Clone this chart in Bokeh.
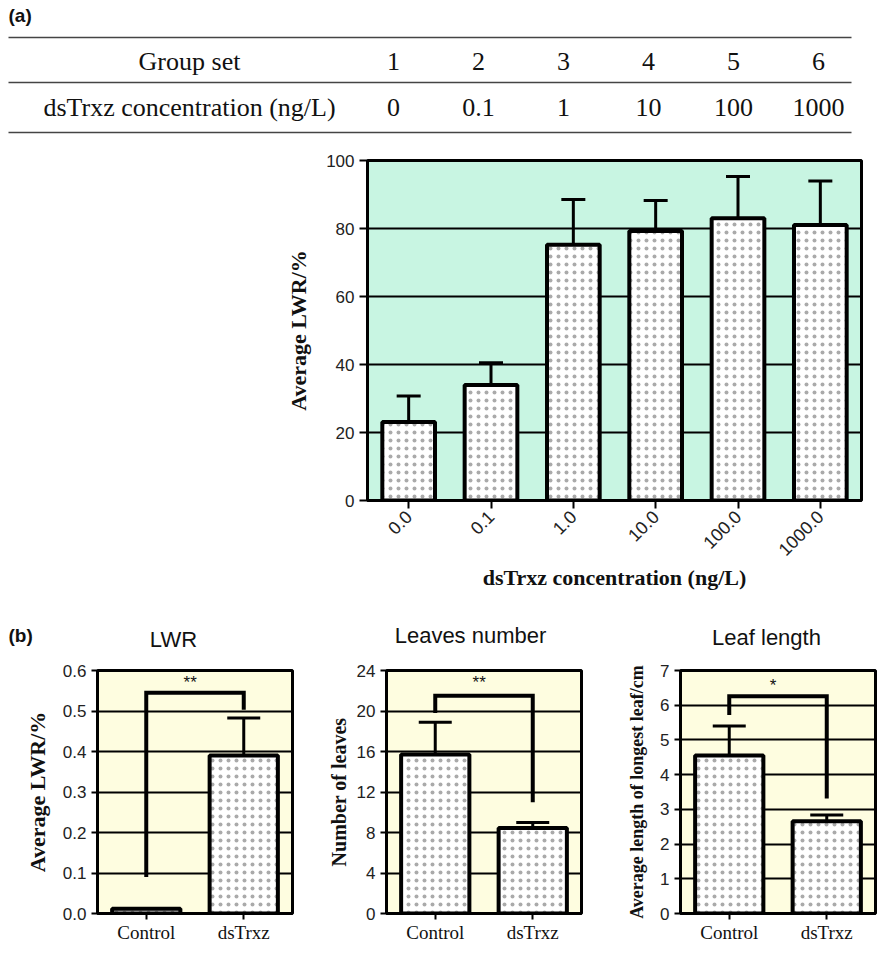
import math
from bokeh.plotting import figure
from bokeh.models import (ColumnDataSource, FactorRange, Range1d, Whisker, TeeHead,
                          Label, FixedTicker, NumeralTickFormatter, Spacer)
from bokeh.layouts import column, row
from bokeh.embed import file_html
from bokeh.resources import INLINE
from bokeh.core.properties import value

# ---------------- data ----------------
table_row_labels = ["Group set", "dsTrxz concentration (ng/L)"]
group_ids = ["1", "2", "3", "4", "5", "6"]
table_conc = ["0", "0.1", "1", "10", "100", "1000"]

conc_labels = ["0.0", "0.1", "1.0", "10.0", "100.0", "1000.0"]
lwr_mean = [23.1, 34.0, 75.2, 79.3, 83.0, 81.0]
lwr_upper = [30.7, 40.5, 88.5, 88.2, 95.3, 94.0]
a_yticks = [0, 20, 40, 60, 80, 100]

groups = ["Control", "dsTrxz"]
b_lwr_mean = [0.012, 0.39]
b_lwr_upper = [0.012, 0.483]
b_leaves_mean = [15.7, 8.45]
b_leaves_upper = [18.9, 9.0]
b_length_mean = [4.55, 2.66]
b_length_upper = [5.40, 2.84]
# significance brackets: [left leg end, bracket top, right leg end]
b_lwr_bracket = [0.09, 0.545, 0.503]
b_leaves_bracket = [19.8, 21.5, 11.0]
b_length_bracket = [5.72, 6.26, 3.31]
b_stars = ["**", "**", "*"]
b_star_y = [0.57, 22.8, 6.58]
b_titles = ["LWR", "Leaves number", "Leaf length"]
b_ylabels = ["Average LWR/%", "Number of leaves", "Average length of longest leaf/cm"]

# ---------------- style ----------------
W = 877
SANS = "Liberation Sans"
SERIF = "Liberation Serif"
MINT = "#C8F5E2"
CREAM = "#FEFDE0"
HATCH = dict(hatch_pattern="dot", hatch_scale=8, hatch_color="#555555", hatch_weight=0.2,
             hatch_alpha=0.5)


def blank(width, height):
    p = figure(width=width, height=height, x_range=Range1d(0, width), y_range=Range1d(height, 0),
               toolbar_location=None, output_backend="svg", min_border=0,
               x_axis_type=None, y_axis_type=None)
    p.outline_line_color = None
    p.grid.visible = False
    return p


# ---------------- table (a) ----------------
TH = 148
t = blank(W, TH)
line_y = [37, 82, 132]
t.segment(x0=[8] * 3, y0=line_y, x1=[851] * 3, y1=line_y, line_color="#444444", line_width=1.5)
col_x = [393 + 85 * i for i in range(len(group_ids))]
row_y = [61, 107]
TFS = "26px"
t.text(x=[189, 189], y=row_y, text=table_row_labels, text_align="center", text_baseline="middle",
       text_font=value(SERIF), text_font_size=TFS, text_color="#111111")
t.text(x=col_x, y=[row_y[0]] * len(group_ids), text=group_ids, text_align="center",
       text_baseline="middle", text_font=value(SERIF), text_font_size=TFS, text_color="#111111")
t.text(x=col_x, y=[row_y[1]] * len(table_conc), text=table_conc, text_align="center",
       text_baseline="middle", text_font=value(SERIF), text_font_size=TFS, text_color="#111111")
t.text(x=[8], y=[4], text=["(a)"], text_align="left", text_baseline="top",
       text_font=value(SANS), text_font_style="bold", text_font_size="19px", text_color="#111111")


def style_axes(p, tick_out, label_px):
    for ax in p.axis:
        ax.axis_line_width = 3
        ax.axis_line_color = "black"
        ax.major_tick_line_width = 2
        ax.major_tick_line_color = "black"
        ax.major_tick_out = tick_out
        ax.major_tick_in = 0
        ax.minor_tick_line_color = None
        ax.major_label_text_font = SANS
        ax.major_label_text_font_size = label_px
        ax.major_label_text_color = "#222222"
        ax.axis_label_text_font = SERIF
        ax.axis_label_text_font_style = "bold"
        ax.axis_label_text_color = "#111111"


# ---------------- chart (a) ----------------
SA = 250
AH = 447
pa = figure(width=W - SA, height=AH, x_range=FactorRange(*conc_labels), y_range=Range1d(0, 100),
            toolbar_location=None, output_backend="svg",
            min_border_left=367 - SA, min_border_right=16, min_border_top=12,
            min_border_bottom=AH - 12 - 340, background_fill_color=MINT)
pa.outline_line_color = "black"
pa.outline_line_width = 3
pa.xgrid.visible = False
pa.yaxis.ticker = FixedTicker(ticks=a_yticks)
pa.ygrid.ticker = FixedTicker(ticks=a_yticks)
pa.ygrid.grid_line_color = "black"
pa.ygrid.grid_line_width = 2
src_a = ColumnDataSource(dict(x=conc_labels, top=lwr_mean, upper=lwr_upper))
pa.vbar(x="x", top="top", width=0.64, source=src_a, fill_color="white",
        line_color="black", line_width=4, **HATCH)
pa.add_layout(Whisker(source=src_a, base="x", lower="top", upper="upper", line_width=3,
                      line_color="black", lower_head=None,
                      upper_head=TeeHead(size=24, line_width=3, line_color="black")))
style_axes(pa, 8, "17px")
pa.xaxis.major_label_orientation = math.pi / 4
pa.xaxis.major_label_text_font_size = "18px"
pa.xaxis.axis_label = "dsTrxz concentration (ng/L)"
pa.xaxis.axis_label_text_font_size = "22px"
pa.xaxis.axis_label_standoff = 0
pa.yaxis.axis_label = "Average LWR/%"
pa.yaxis.axis_label_text_font_size = "22px"
pa.yaxis.axis_label_standoff = 12

# ---------------- header (b) ----------------
HH = 65
hb = blank(W, HH)
hb.text(x=[8], y=[40], text=["(b)"], text_align="left", text_baseline="middle",
        text_font=value(SANS), text_font_style="bold", text_font_size="19px", text_color="#111111")
hb.text(x=[173, 470, 766], y=[44, 40, 42], text=b_titles, text_align="center",
        text_baseline="middle", text_font=value(SANS), text_font_size="22px", text_color="#111111")

# ---------------- panels (b) ----------------
BH = 285
BTOP = 10
BBOT = 28
BFRAME_W = 195


def panel(width, left, means, uppers, bracket, star, star_y, ymax, ticks, ylabel,
          ylabel_px, ylabel_standoff, fmt=None):
    p = figure(width=width, height=BH, x_range=FactorRange(*groups), y_range=Range1d(0, ymax),
               toolbar_location=None, output_backend="svg",
               min_border_left=left, min_border_right=width - left - BFRAME_W,
               min_border_top=BTOP, min_border_bottom=BBOT, background_fill_color=CREAM)
    p.outline_line_color = "black"
    p.outline_line_width = 3
    p.xgrid.visible = False
    p.yaxis.ticker = FixedTicker(ticks=ticks)
    p.ygrid.ticker = FixedTicker(ticks=ticks)
    p.ygrid.grid_line_color = "black"
    p.ygrid.grid_line_width = 2
    if fmt:
        p.yaxis.formatter = NumeralTickFormatter(format=fmt)
    src = ColumnDataSource(dict(x=groups, top=means))
    p.vbar(x="x", top="top", width=0.7, source=src, fill_color="white",
           line_color="black", line_width=4, **HATCH)
    idx = [i for i in range(len(groups)) if uppers[i] > means[i]]
    wsrc = ColumnDataSource(dict(x=[groups[i] for i in idx], lower=[means[i] for i in idx],
                                 upper=[uppers[i] for i in idx]))
    p.add_layout(Whisker(source=wsrc, base="x", lower="lower", upper="upper", line_width=3,
                         line_color="black", lower_head=None,
                         upper_head=TeeHead(size=33, line_width=3, line_color="black")))
    p.line(x=[groups[0], groups[0], groups[1], groups[1]],
           y=[bracket[0], bracket[1], bracket[1], bracket[2]],
           line_color="black", line_width=4, line_join="miter")
    p.add_layout(Label(x=0.95, y=star_y, text=star, text_align="center", text_baseline="middle",
                       text_font=SANS, text_font_size="17px", text_color="#111111"))
    style_axes(p, 6, "17px")
    p.xaxis.major_label_text_font = SERIF
    p.xaxis.major_label_text_font_size = "19px"
    p.xaxis.major_label_text_color = "#111111"
    p.xaxis.major_label_standoff = 2
    p.yaxis.axis_label = ylabel
    p.yaxis.axis_label_text_font_size = ylabel_px
    p.yaxis.axis_label_standoff = ylabel_standoff
    return p


b1 = panel(300, 97, b_lwr_mean, b_lwr_upper, b_lwr_bracket, b_stars[0], b_star_y[0],
           0.6, [0, 0.1, 0.2, 0.3, 0.4, 0.5, 0.6], b_ylabels[0], "22px", 10, fmt="0.0")
b2 = panel(290, 86, b_leaves_mean, b_leaves_upper, b_leaves_bracket, b_stars[1], b_star_y[1],
           24, [0, 4, 8, 12, 16, 20, 24], b_ylabels[1], "20px", 4)
b3 = panel(287, 90, b_length_mean, b_length_upper, b_length_bracket, b_stars[2], b_star_y[2],
           7, [0, 1, 2, 3, 4, 5, 6, 7], b_ylabels[2], "18px", 10)

layout = column(t, row(Spacer(width=SA, height=AH), pa), hb, row(b1, b2, b3))
open("out.html", "w").write(file_html(layout, INLINE))
